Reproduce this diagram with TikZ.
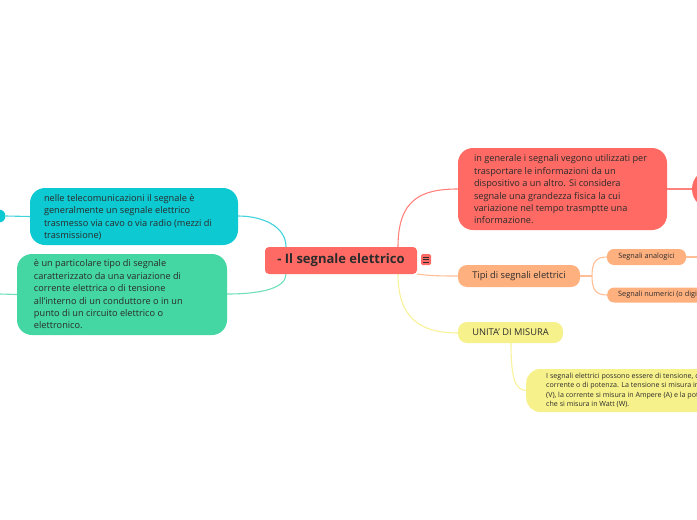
\documentclass[tikz,border=0pt]{standalone}
\usepackage{fontspec}
\setmainfont{Open Sans}
\usetikzlibrary{calc}
\definecolor{cred}{HTML}{FF6B64}
\definecolor{credl}{HTML}{FF827C}
\definecolor{corange}{HTML}{FFB07F}
\definecolor{corangel}{HTML}{FFBE96}
\definecolor{cyellow}{HTML}{F7F18C}
\definecolor{cyellowl}{HTML}{F8F29A}
\definecolor{ccyan}{HTML}{0CC9D2}
\definecolor{ccyanl}{HTML}{3FD3DA}
\definecolor{cgreen}{HTML}{44D7A3}
\definecolor{cgreenl}{HTML}{70DFB8}
\definecolor{ctext}{HTML}{2B2B2B}
\tikzset{
  bigbox/.style={rounded corners=15pt, text=ctext, align=left, inner sep=0pt, font=\fontsize{9.2}{12.4}\selectfont},
  smallbox/.style={rounded corners=9pt, text=ctext, inner sep=0pt, font=\fontsize{9.3}{11}\selectfont},
  tinybox/.style={rounded corners=7pt, text=ctext, inner sep=0pt, font=\fontsize{7.3}{8.5}\selectfont},
  link/.style={line width=1.1pt},
}
\begin{document}
\begin{tikzpicture}[x=1pt,y=-1pt]
\useasboundingbox (0,0) rectangle (697,520);
\clip (0,0) rectangle (697,520);
% connectors
\coordinate (cTL) at (286,247);
\coordinate (cBL) at (286,274);
\coordinate (cTR) at (398,247);
\coordinate (cBR) at (398,274);
\coordinate (cR) at (417,274);
\draw[link, ccyanl] (cTL) .. controls (286,226) and (262,216) .. (238,216);
\draw[link, cgreenl] (cBL) .. controls (286,288) and (262,294) .. (227,294);
\draw[link, credl] (cTR) .. controls (398,200) and (420,189) .. (458,189);
\draw[link, corangel] (cR) .. controls (430,276) and (445,276) .. (458,276);
\draw[link, cyellowl] (cBR) .. controls (398,318) and (420,333) .. (458,333);
% left small circle
\node[circle, fill=ccyan, minimum size=13pt, inner sep=0pt] (lc) at (-1,216) {};
\coordinate (gl) at (0,294);
% central
\node[fill=cred, rounded corners=4pt, minimum width=152pt, minimum height=27pt, inner sep=0pt, text=ctext, font=\fontsize{13}{15}\selectfont\bfseries] (center) at (341,260.5) {- Il segnale elettrico};
\node[fill=cred, rounded corners=1.5pt, minimum width=10pt, minimum height=11pt, inner sep=0pt] (icon) at (426,259.5) {};
\foreach \yy in {-2.5,0,2.5} \draw[ctext, line width=0.6pt] ($(icon.center)+(-2.8,\yy)$) -- ($(icon.center)+(2.8,\yy)$);
% red node
\node[bigbox, fill=cred, minimum width=209pt, minimum height=82pt] (red) at (562.5,189) {\begin{minipage}{177pt}\raggedright\vspace*{1pt} in generale i segnali vegono utilizzati per\\ trasportare le informazioni da un\\ dispositivo a un altro. Si considera\\ segnale una grandezza fisica la cui\\ variazione nel tempo trasmptte una\\ informazione.\end{minipage}};
\node[circle, fill=cred, minimum size=40pt, inner sep=0pt] (rc) at (712,189) {};
\draw[link, credl] (red.east) -- (rc.west);
% cyan node
\node[bigbox, fill=ccyan, minimum width=208pt, minimum height=57pt] (cyan) at (134,216.5) {\begin{minipage}{180pt}\raggedright\vspace*{1pt} nelle telecomunicazioni il segnale è\\ generalmente un segnale elettrico\\ trasmesso via cavo o via radio (mezzi di\\ trasmissione)\end{minipage}};
\draw[link, ccyanl] (lc.east) -- (cyan.west);
% green node
\node[bigbox, fill=cgreen, minimum width=210pt, minimum height=81pt] (green) at (122,294.5) {\begin{minipage}{176pt}\raggedright è un particolare tipo di segnale\\ caratterizzato da una variazione di\\ corrente elettrica o di tensione\\ all'interno di un conduttore o in un\\ punto di un circuito elettrico o\\ elettronico.\end{minipage}};
\draw[link, cgreenl] (gl) -- (green.west);
% tipi
\node[smallbox, fill=corange, minimum width=122pt, minimum height=22pt] (tipi) at (519,276) {Tipi di segnali elettrici};
\node[tinybox, fill=corange, minimum width=79pt, minimum height=16pt] (ana) at (646.5,257) {Segnali analogici};
\node[tinybox, fill=corange, minimum height=15pt, inner xsep=11pt, anchor=west] (num) at (607,295) {Segnali numerici (o digitali)};
\coordinate (br) at (592,276);
\coordinate (anaR) at (697,257);
\draw[link, corangel] (tipi.east) -- (br);
\draw[link, corangel] (br) .. controls (592,262) and (596,257) .. (ana.west);
\draw[link, corangel] (br) .. controls (592,290) and (596,295) .. (num.west);
\draw[link, corangel] (ana.east) -- (anaR);
% unita
\node[smallbox, fill=cyellow, minimum width=105pt, minimum height=21pt] (uni) at (510.5,332.5) {UNITA' DI MISURA};
\node[tinybox, fill=cyellow, rounded corners=14pt, minimum height=43pt, inner xsep=20pt, anchor=west, align=left, font=\fontsize{7.1}{9.5}\selectfont] (ytext) at (526,390.5) {I segnali elettrici possono essere di tensione, di\\ corrente o di potenza. La tensione si misura in Volt\\ (V), la corrente si misura in Ampere (A) e la potenza\\ che si misura in Watt (W).};
\draw[link, cyellowl] (511,343) .. controls (511,378) and (515,390) .. (ytext.west);
\end{tikzpicture}
\end{document}
